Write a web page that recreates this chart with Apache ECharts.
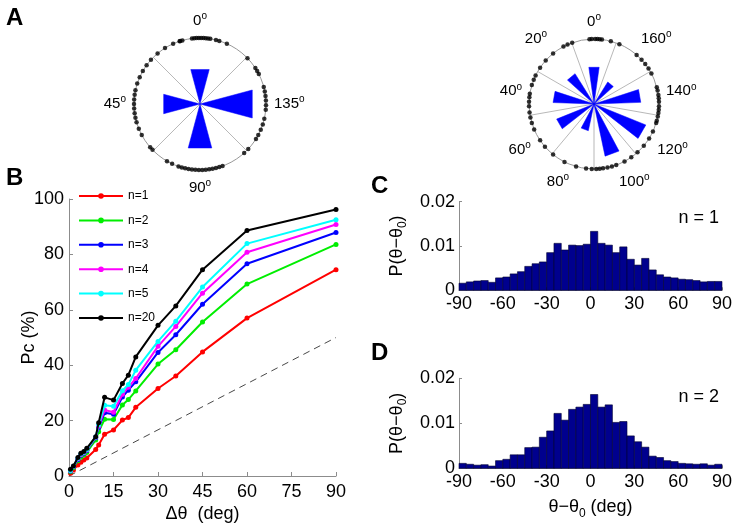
<!DOCTYPE html>
<html><head><meta charset="utf-8">
<script src="https://cdn.jsdelivr.net/npm/echarts@6/dist/echarts.min.js"></script>
<style>html,body{margin:0;padding:0;background:#fff}#c{width:735px;height:528px}</style>
</head><body><div id="c"></div>
<script>
// ---------- Panel B data ----------
const dTheta = [0.5, 1.5, 3, 4, 5, 6, 9, 10, 12, 15, 18, 20, 22.5, 30, 36, 45, 60, 90];
const pcN1  = [1.0, 2.2, 4.0, 5.0, 5.8, 6.5, 9.6, 11.2, 15.1, 16.6, 20.2, 21.1, 24.8, 31.6, 36.1, 44.8, 57.0, 74.5];
const pcN2  = [1.5, 3.0, 5.5, 6.8, 7.6, 8.5, 13.0, 16.0, 20.5, 20.4, 25.6, 27.6, 30.7, 40.4, 45.6, 55.6, 69.3, 83.6];
const pcN3  = [1.8, 3.3, 6.0, 7.5, 8.2, 9.2, 13.8, 17.5, 22.8, 22.3, 28.5, 31.0, 34.0, 44.6, 51.0, 62.0, 76.6, 87.9];
const pcN4  = [1.9, 3.4, 6.2, 7.7, 8.4, 9.4, 14.0, 18.0, 23.8, 23.0, 29.5, 32.0, 35.2, 46.8, 54.0, 66.0, 80.8, 90.8];
const pcN5  = [2.0, 3.5, 6.4, 7.9, 8.6, 9.6, 14.1, 18.5, 25.5, 25.2, 30.8, 33.0, 38.2, 48.6, 55.9, 68.2, 83.9, 92.5];
const pcN20 = [2.4, 3.6, 6.7, 8.2, 8.8, 10.0, 14.2, 19.2, 28.4, 27.4, 33.4, 36.4, 43.0, 54.4, 61.4, 74.5, 88.6, 96.2];
const seriesNames = ['n=1', 'n=2', 'n=3', 'n=4', 'n=5', 'n=20'];
const seriesColors = ['#ff0000', '#00ee00', '#0000ff', '#ff00ff', '#00ffff', '#000000'];
const chanceX = [0, 90];
const chanceY = [0, 50];

// ---------- Panels C / D data ----------
const histBinStart = [-90,-85,-80,-75,-70,-65,-60,-55,-50,-45,-40,-35,-30,-25,-20,-15,-10,-5,0,5,10,15,20,25,30,35,40,45,50,55,60,65,70,75,80,85];
const histBinWidth = 5;
const histN1 = [0.0016,0.0019,0.0021,0.0022,0.0018,0.0028,0.0030,0.0037,0.0042,0.0054,0.0060,0.0064,0.0085,0.0106,0.0091,0.0102,0.0101,0.0104,
                0.0133,0.0106,0.0102,0.0085,0.0098,0.0070,0.0057,0.0072,0.0046,0.0035,0.0030,0.0028,0.0025,0.0024,0.0022,0.0019,0.0020,0.0020];
const histN2 = [0.0011,0.0009,0.0007,0.0008,0.0005,0.0017,0.0020,0.0030,0.0030,0.0046,0.0047,0.0069,0.0083,0.0122,0.0107,0.0131,0.0136,0.0142,
                0.0164,0.0136,0.0141,0.0102,0.0104,0.0072,0.0059,0.0047,0.0027,0.0024,0.0017,0.0015,0.0011,0.0010,0.0009,0.0010,0.0007,0.0009];

// ---------- Panel A data (orientation, deg) ----------
const roseLeftAngles = [0, 45, 90, 135];
const roseLeftLen = [0.54, 0.57, 0.69, 0.82];
const roseRightAngles = [0, 20, 40, 60, 80, 100, 120, 140, 160];
const roseRightLen = [0.57, 0.55, 0.63, 0.62, 0.42, 0.82, 0.86, 0.72, 0.40];
const dotsLeft = [0.5,1.5,2.5,3.5,176.5,177.5,178.5,179.5,175.5,8.75,7.75,173,171.5,168,157,151.5,150,148.5,
  142.5,140.5,138.5,136.5,134.5,132.5,128.5,126,123.5,121,119,113.5,111,
  100,98.5,97,95.5,94,92.5,91,89.5,88,86.5,85,83.5,82,80.5,77.5,75,67,65.5,
  59,56,53,51,49,47,45,43,41,39,36,33,30,27,24,20,16,12,9];
const dotsRight = [2,1,179.5,178.5,177.5,176.5,9.8,172.5,168.5,159.5,156.5,154,151.5,149,
  142.5,141,139,137.5,136,134,132.5,131,129.5,127.5,126.5,122.5,119,115,111,
  107.5,104,100,98,96,94,92.5,91,89,86.5,82,76.5,70.5,65.5,62,
  56.5,53.5,51,48.75,46,44,42,40.5,36.5,34,32,28,24,19.5,14,12];

const FONT = 'Liberation Sans, Arial, Helvetica, sans-serif';
const AX = '#8c8c8c';

function degLabel(v) {
  if (v >= 180) return '';
  return '{n|' + v + '}{s|o}';
}
const degRich = {
  n: {fontSize: 15, fontFamily: FONT, color: '#000', lineHeight: 18},
  s: {fontSize: 10, fontFamily: FONT, color: '#000', padding: [0, 0, 9, 0]}
};

function wedgeRenderer(hw) {
  return function (params, api) {
    const r = api.value(0), a = api.value(1);
    let a1 = a - hw; if (a1 < 0) a1 += 180;
    let a2 = a + hw; if (a2 > 180) a2 -= 180;
    const c = api.coord([0, a]);
    const p1 = api.coord([r, a1]);
    const p2 = api.coord([r, a2]);
    return {type: 'polygon', shape: {points: [c, p1, p2]}, style: {fill: '#0000ff', stroke: '#0000ff', lineWidth: 0.5}};
  };
}

function histRenderer(params, api) {
  const s = api.value(0), v = api.value(1);
  const p0 = api.coord([s, 0]);
  const p1 = api.coord([s + histBinWidth, v]);
  return {type: 'rect', shape: {x: p0[0], y: p1[1], width: p1[0] - p0[0], height: p0[1] - p1[1]},
          style: {fill: '#00008e', stroke: '#000030', lineWidth: 0.6}};
}

function angleAxisCfg(idx, interval) {
  return {
    polarIndex: idx, type: 'value', min: 0, max: 180, interval: interval,
    startAngle: 90, clockwise: false,
    axisLine: {show: true, lineStyle: {color: '#999', width: 1}},
    axisTick: {show: false},
    splitLine: {show: false},
    minorTick: {show: false, splitNumber: 2},
    minorSplitLine: {show: true, lineStyle: {color: '#999', width: 0.7}},
    axisLabel: {margin: 8, formatter: degLabel, rich: degRich}
  };
}
function radiusAxisCfg(idx) {
  return {polarIndex: idx, type: 'value', min: 0, max: 1,
    axisLine: {show: false}, axisTick: {show: false}, axisLabel: {show: false}, splitLine: {show: false}};
}

const tickLabel = {fontSize: 18, fontFamily: FONT, color: '#000'};
const nameStyle = {fontSize: 18, fontFamily: FONT, color: '#000'};

const series = [];
series.push({
  type: 'line', name: 'chance', xAxisIndex: 0, yAxisIndex: 0, symbol: 'none', silent: true,
  data: chanceX.map((x, i) => [x, chanceY[i]]),
  lineStyle: {color: '#333', width: 0.9, type: [7, 5]}, z: 1
});
const pcAll = [pcN1, pcN2, pcN3, pcN4, pcN5, pcN20];
pcAll.forEach((arr, k) => {
  series.push({
    type: 'line', name: seriesNames[k], xAxisIndex: 0, yAxisIndex: 0,
    data: dTheta.map((x, i) => [x, arr[i]]),
    symbol: 'circle', symbolSize: 5, color: seriesColors[k],
    lineStyle: {width: 2, color: seriesColors[k]}, itemStyle: {color: seriesColors[k]},
    z: 2 + k
  });
});
series.push({type: 'custom', xAxisIndex: 1, yAxisIndex: 1, renderItem: histRenderer,
  encode: {x: 0, y: 1}, data: histBinStart.map((s, i) => [s, histN1[i]])});
series.push({type: 'custom', xAxisIndex: 2, yAxisIndex: 2, renderItem: histRenderer,
  encode: {x: 0, y: 1}, data: histBinStart.map((s, i) => [s, histN2[i]])});
series.push({type: 'custom', coordinateSystem: 'polar', polarIndex: 0, renderItem: wedgeRenderer(7.5),
  encode: {radius: 0, angle: 1}, data: roseLeftAngles.map((a, i) => [roseLeftLen[i], a])});
series.push({type: 'custom', coordinateSystem: 'polar', polarIndex: 1, renderItem: wedgeRenderer(4),
  encode: {radius: 0, angle: 1}, data: roseRightAngles.map((a, i) => [roseRightLen[i], a])});
series.push({type: 'scatter', coordinateSystem: 'polar', polarIndex: 0, symbolSize: 4.5,
  itemStyle: {color: '#000'}, data: dotsLeft.map(a => [1, a]), z: 5});
series.push({type: 'scatter', coordinateSystem: 'polar', polarIndex: 1, symbolSize: 4.5,
  itemStyle: {color: '#000'}, data: dotsRight.map(a => [1, a]), z: 5});

const subRich = {
  m: {fontSize: 18, fontFamily: FONT, color: '#000', lineHeight: 20},
  sub: {fontSize: 12, fontFamily: FONT, color: '#000', padding: [12, 0, 0, 0]}
};

const yBase = {
  type: 'value',
  axisLine: {show: true, onZero: false, lineStyle: {color: AX}},
  axisTick: {show: true, inside: true, length: 3, lineStyle: {color: AX}},
  splitLine: {show: false}, nameMoveOverlap: false
};

const option = {
  animation: false,
  backgroundColor: '#fff',
  textStyle: {fontFamily: FONT},
  grid: [
    {left: 69, top: 199, right: 399, bottom: 52},
    {left: 459, top: 201.7, right: 13, bottom: 237.7},
    {left: 459, top: 378.3, right: 13, bottom: 59.7}
  ],
  xAxis: [
    {gridIndex: 0, type: 'value', min: 0, max: 90, interval: 15,
     axisLine: {onZero: false, lineStyle: {color: AX}}, axisTick: {inside: true, length: 4, lineStyle: {color: AX}},
     axisLabel: Object.assign({margin: 7}, tickLabel), splitLine: {show: false},
     name: 'Δθ  (deg)', nameLocation: 'middle', nameGap: 29, nameTextStyle: nameStyle, nameMoveOverlap: false},
    {gridIndex: 1, type: 'value', min: -90, max: 90, interval: 30,
     axisLine: {onZero: false, lineStyle: {color: AX}}, axisTick: {inside: true, length: 3, lineStyle: {color: AX}},
     axisLabel: Object.assign({margin: 5}, tickLabel), splitLine: {show: false}},
    {gridIndex: 2, type: 'value', min: -90, max: 90, interval: 30,
     axisLine: {onZero: false, lineStyle: {color: AX}}, axisTick: {inside: true, length: 3, lineStyle: {color: AX}},
     axisLabel: Object.assign({margin: 5}, tickLabel), splitLine: {show: false},
     name: '{m|θ−θ}{sub|0}{m| (deg)}', nameLocation: 'middle', nameGap: 27,
     nameTextStyle: {rich: subRich}, nameMoveOverlap: false}
  ],
  yAxis: [
    Object.assign({}, yBase, {gridIndex: 0, min: 0, max: 100, interval: 20,
     axisTick: {show: true, inside: true, length: 4, lineStyle: {color: AX}},
     axisLabel: Object.assign({margin: 5}, tickLabel),
     name: 'Pc (%)', nameLocation: 'middle', nameGap: 31, nameTextStyle: nameStyle}),
    Object.assign({}, yBase, {gridIndex: 1, min: 0, max: 0.02, interval: 0.01,
     axisLabel: Object.assign({margin: 4}, tickLabel),
     name: '{m|P(θ−θ}{sub|0}{m|)}', nameLocation: 'middle', nameGap: 50,
     nameTextStyle: {rich: subRich}}),
    Object.assign({}, yBase, {gridIndex: 2, min: 0, max: 0.02, interval: 0.01,
     axisLabel: Object.assign({margin: 4}, tickLabel),
     name: '{m|P(θ−θ}{sub|0}{m|)}', nameLocation: 'middle', nameGap: 50,
     nameTextStyle: {rich: subRich}})
  ],
  polar: [
    {center: [200, 104], radius: 66},
    {center: [594, 104], radius: 65}
  ],
  angleAxis: [angleAxisCfg(0, 45), angleAxisCfg(1, 20)],
  radiusAxis: [radiusAxisCfg(0), radiusAxisCfg(1)],
  legend: {
    data: seriesNames, orient: 'vertical', left: 78, top: 190,
    itemWidth: 44, itemHeight: 7, itemGap: 12.4,
    textStyle: {fontSize: 12, fontFamily: FONT, color: '#000'}, padding: 0
  },
  graphic: [
    {type: 'text', left: 6, top: 6, style: {text: 'A', font: 'bold 24px ' + FONT, fill: '#000'}},
    {type: 'text', left: 6, top: 166, style: {text: 'B', font: 'bold 24px ' + FONT, fill: '#000'}},
    {type: 'text', left: 371, top: 174, style: {text: 'C', font: 'bold 24px ' + FONT, fill: '#000'}},
    {type: 'text', left: 371, top: 341, style: {text: 'D', font: 'bold 24px ' + FONT, fill: '#000'}},
    {type: 'text', right: 16, top: 209, style: {text: 'n = 1', font: '18px ' + FONT, fill: '#000'}},
    {type: 'text', right: 16, top: 388, style: {text: 'n = 2', font: '18px ' + FONT, fill: '#000'}}
  ],
  series: series
};
const chart = echarts.init(document.getElementById('c'), null, {renderer: 'canvas'});
chart.setOption(option);
</script></body></html>
